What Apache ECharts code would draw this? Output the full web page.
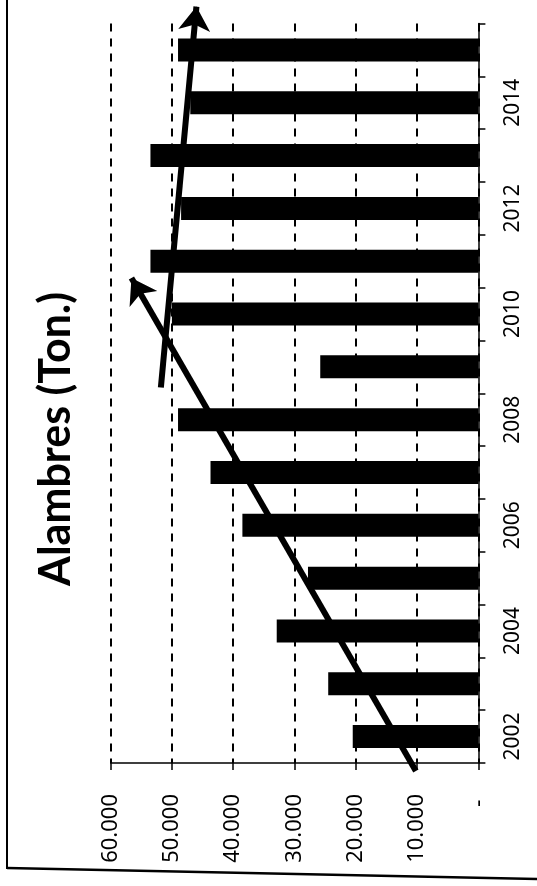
<!DOCTYPE html>
<html><head><meta charset="utf-8">
<script src="https://cdn.jsdelivr.net/npm/echarts@6/dist/echarts.min.js"></script>
<style>html,body{margin:0;padding:0;background:#fff}#c{width:537px;height:886px}</style>
</head><body><div id="c"></div>
<script>
// Data (tonnes)
const years = ['2002','2003','2004','2005','2006','2007','2008','2009','2010','2011','2012','2013','2014','2015'];
const alambres = [20500, 24500, 32900, 27800, 38500, 43700, 49000, 25800, 50000, 53500, 48500, 53500, 47000, 49000];
const valueMin = 0, valueMax = 60000, valueStep = 10000;
const chartTitle = 'Alambres (Ton.)';
// hand-drawn trend arrows: [value (tonnes), position on year scale]
const arrowRise = [[10200, 2001.35], [56600, 2010.68]];
const arrowFlat = [[51800, 2008.61], [46000, 2015.82]];

const W = 537, H = 886;
const gLeft = 110.6, gRight = W - 478.4, gTop = 23.5, gBottom = H - 763;
const band = (H - gTop - gBottom) / years.length;
const yMin2 = 2001.0, yMax2 = 2015.9;
const gTop2 = gTop - (yMax2 - (2001.5 + years.length)) * band;
const gBottom2 = gBottom - (2001.5 - yMin2) * band;

function fmt(v) {
  if (v === 0) return '- ';
  return String(Math.round(v / 1000)) + '.000';
}

const chart = echarts.init(document.getElementById('c'));
chart.setOption({
  backgroundColor: '#fff',
  animation: false,
  grid: [
    { left: gLeft, right: gRight, top: gTop, bottom: gBottom, containLabel: false },
    { left: gLeft, right: gRight, top: gTop2, bottom: gBottom2, containLabel: false }
  ],
  xAxis: [
    {
      type: 'value', gridIndex: 0, position: 'bottom', inverse: true,
      min: valueMin, max: valueMax, interval: valueStep,
      axisLine: { show: true, lineStyle: { color: '#000', width: 1.5 } },
      axisTick: { show: true, length: 7, lineStyle: { color: '#000', width: 1.5 } },
      splitLine: { show: true, lineStyle: { color: '#000', width: 2, type: [8, 7] } },
      axisLabel: { rotate: 90, margin: 31, fontSize: 22, fontFamily: 'Noto Sans', color: '#000', formatter: fmt }
    },
    {
      type: 'value', gridIndex: 1, inverse: true, min: valueMin, max: valueMax, show: false
    }
  ],
  yAxis: [
    {
      type: 'category', gridIndex: 0, position: 'right', data: years,
      axisLine: { show: true, lineStyle: { color: '#000', width: 1.5 } },
      axisTick: { show: true, length: 7, interval: 0, lineStyle: { color: '#000', width: 1.5 } },
      splitLine: { show: false },
      axisLabel: { rotate: 90, interval: 1, margin: 24, fontSize: 21, fontFamily: 'Noto Sans', color: '#000' }
    },
    {
      type: 'value', gridIndex: 1, min: yMin2, max: yMax2, show: false
    }
  ],
  series: [
    {
      type: 'bar', xAxisIndex: 0, yAxisIndex: 0, data: alambres,
      barWidth: 23, itemStyle: { color: '#000' }
    },
    {
      type: 'lines', coordinateSystem: 'cartesian2d', xAxisIndex: 1, yAxisIndex: 1,
      symbol: ['none', 'arrow'], symbolSize: 24,
      lineStyle: { color: '#000', width: 6, opacity: 1, curveness: 0 },
      data: [{ coords: arrowRise }, { coords: arrowFlat }],
      z: 5
    }
  ],
  graphic: [
    { type: 'text', x: 56, y: 439, rotation: Math.PI / 2,
      style: { text: chartTitle, fontSize: 43, fontWeight: 'bold', fontFamily: 'Lato', fill: '#000', align: 'center', verticalAlign: 'middle' } },
    { type: 'line', shape: { x1: 7, y1: 0, x2: 7, y2: 869 }, style: { stroke: '#000', lineWidth: 2 } },
    { type: 'line', shape: { x1: 7, y1: 868, x2: 537, y2: 879 }, style: { stroke: '#000', lineWidth: 2.5 } }
  ]
});
</script>
</body></html>
